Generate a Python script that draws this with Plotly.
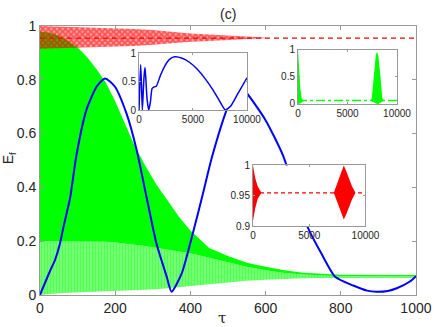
import plotly.graph_objects as go

# ---- main panel data ----
# green: fast oscillation, drawn as its envelopes
green_tau = [0, 25, 50, 75, 100, 125, 150, 175, 200, 225, 250, 280, 310, 340, 370,
             400, 450, 500, 550, 600, 650, 700, 750, 800, 900, 1000]
green_hi = [0.98, 0.975, 0.965, 0.945, 0.92, 0.885, 0.84, 0.79, 0.72, 0.64, 0.56, 0.48,
            0.41, 0.35, 0.29, 0.24, 0.175, 0.145, 0.12, 0.105, 0.092, 0.083, 0.078,
            0.075, 0.074, 0.074]
green_mid = [0.2, 0.2, 0.2, 0.2, 0.2, 0.2, 0.2, 0.198, 0.195, 0.19, 0.187, 0.182, 0.176,
             0.17, 0.162, 0.155, 0.138, 0.12, 0.105, 0.092, 0.082, 0.076, 0.072, 0.07,
             0.07, 0.07]
green_lo = [0.0, 0.004, 0.006, 0.008, 0.009, 0.01, 0.011, 0.012, 0.013, 0.015, 0.017,
            0.019, 0.021, 0.025, 0.03, 0.035, 0.042, 0.048, 0.053, 0.057, 0.06, 0.062,
            0.063, 0.063, 0.063, 0.063]

# red: oscillating band that settles on a constant
red_tau = [0, 50, 100, 150, 200, 250, 300, 350, 400, 450, 500, 550, 600]
red_hi = [1.0, 0.998, 0.995, 0.993, 0.991, 0.989, 0.985, 0.978, 0.972, 0.968, 0.965,
          0.961, 0.957]
red_lo = [0.915, 0.917, 0.919, 0.921, 0.923, 0.926, 0.93, 0.936, 0.941, 0.944, 0.949,
          0.952, 0.954]
red_flat_tau = [0, 1000]
red_flat = [0.955, 0.955]

# blue
blue_tau = [0, 27, 40, 53, 62, 80, 97, 124, 151, 173, 199, 230, 257, 284, 310, 337,
            350, 377, 403, 434, 457, 497, 525, 550, 600, 646, 680, 711, 750, 785, 833,
            870, 895, 925, 949, 984, 1000]
blue_val = [0, 0.09, 0.13, 0.19, 0.25, 0.36, 0.52, 0.69, 0.775, 0.805, 0.775, 0.675,
            0.54, 0.36, 0.19, 0.068, 0.012, 0.08, 0.21, 0.38, 0.51, 0.69, 0.78, 0.75,
            0.65, 0.52, 0.38, 0.255, 0.15, 0.068, 0.035, 0.016, 0.012, 0.015, 0.025,
            0.05, 0.07]

# ---- inset data ----
ins_blue_t = [0, 80, 155, 230, 310, 400, 480, 560, 650, 745, 900, 1056, 1211, 1400,
              1600, 2000, 2400, 2800, 3300, 4000, 4700, 5400, 6100, 6800, 7400, 8000,
              8500, 9100, 10000]
ins_blue_v = [0, 0.45, 0.8, 0.45, 0, 0.35, 0.62, 0.75, 0.5, 0.2, 0, 0.14, 0.38, 0.41,
              0.42, 0.62, 0.78, 0.89, 0.94, 0.915, 0.84, 0.72, 0.56, 0.37, 0.18, 0.0,
              0.07, 0.27, 0.57]

ins_green_t = [0, 100, 240, 370, 500, 700, 7300, 7450, 7650, 7850, 7980, 8110, 8320,
               8520, 8680, 10000]
ins_green_hi = [1.0, 0.64, 0.28, 0.1, 0.075, 0.065, 0.065, 0.1, 0.52, 0.89, 0.96, 0.89,
                0.52, 0.1, 0.065, 0.065]
ins_green_lo = [0.0, 0.0, 0.01, 0.03, 0.05, 0.065, 0.065, 0.05, 0.02, 0.0, 0.0, 0.0,
                0.02, 0.05, 0.065, 0.065]
ins_green_flat_t = [0, 10000]
ins_green_flat = [0.065, 0.065]

ins_red_t = [0, 200, 415, 650, 750, 7180, 7400, 7626, 7850, 8070, 8300, 8516, 8800,
             9110, 10000]
ins_red_hi = [1.0, 0.979, 0.966, 0.957, 0.955, 0.955, 0.966, 0.979, 0.99, 1.0, 0.99,
              0.979, 0.966, 0.955, 0.955]
ins_red_lo = [0.909, 0.93, 0.945, 0.952, 0.955, 0.955, 0.944, 0.93, 0.92, 0.911, 0.92,
              0.93, 0.944, 0.955, 0.955]
ins_red_flat_t = [0, 10000]
ins_red_flat = [0.955, 0.955]

GREEN = "#00ff00"
RED = "#ff0000"
BLUE = "#0000ff"
FONT = "Liberation Sans"

fig = go.Figure()

# main: green envelopes
fig.add_trace(go.Scatter(x=green_tau, y=green_lo, mode="lines", line=dict(width=0),
                         hoverinfo="skip"))
fig.add_trace(go.Scatter(x=green_tau, y=green_mid, mode="lines", line=dict(width=0),
                         fill="tonexty",
                         fillpattern=dict(shape="|", fgcolor=GREEN,
                                          bgcolor="rgba(0,255,0,0.35)",
                                          size=3, solidity=0.75)))
fig.add_trace(go.Scatter(x=green_tau, y=green_hi, mode="lines", line=dict(width=0),
                         fill="tonexty", fillcolor=GREEN))

# main: red band + dashed level
fig.add_trace(go.Scatter(x=red_tau, y=red_lo, mode="lines", line=dict(width=0),
                         hoverinfo="skip"))
fig.add_trace(go.Scatter(x=red_tau, y=red_hi, mode="lines", line=dict(width=0),
                         fill="tonexty",
                         fillpattern=dict(shape="x", fgcolor=RED,
                                          bgcolor="rgba(255,0,0,0.35)",
                                          size=4, solidity=0.7)))
fig.add_trace(go.Scatter(x=red_flat_tau, y=red_flat, mode="lines",
                         line=dict(color=RED, width=1.2, dash="5px,4px")))

# main: blue
fig.add_trace(go.Scatter(x=blue_tau, y=blue_val, mode="lines",
                         line=dict(color=BLUE, width=2, shape="spline", smoothing=0.6)))

# inset 1: blue
fig.add_trace(go.Scatter(x=ins_blue_t, y=ins_blue_v, mode="lines", xaxis="x2", yaxis="y2",
                         line=dict(color=BLUE, width=1.5, shape="spline", smoothing=0.5)))

# inset 2: green
fig.add_trace(go.Scatter(x=ins_green_t, y=ins_green_lo, mode="lines", xaxis="x3",
                         yaxis="y3", line=dict(width=0)))
fig.add_trace(go.Scatter(x=ins_green_t, y=ins_green_hi, mode="lines", xaxis="x3",
                         yaxis="y3", line=dict(width=0), fill="tonexty", fillcolor=GREEN))
fig.add_trace(go.Scatter(x=ins_green_flat_t, y=ins_green_flat, mode="lines", xaxis="x3",
                         yaxis="y3", line=dict(color=GREEN, width=1.5, dash="dashdot")))

# inset 3: red
fig.add_trace(go.Scatter(x=ins_red_t, y=ins_red_lo, mode="lines", xaxis="x4", yaxis="y4",
                         line=dict(width=0)))
fig.add_trace(go.Scatter(x=ins_red_t, y=ins_red_hi, mode="lines", xaxis="x4", yaxis="y4",
                         line=dict(width=0), fill="tonexty", fillcolor=RED))
fig.add_trace(go.Scatter(x=ins_red_flat_t, y=ins_red_flat, mode="lines", xaxis="x4",
                         yaxis="y4", line=dict(color=RED, width=1.2, dash="4px,3px")))


def ax_style(size, ticklen):
    return dict(showline=True, linecolor="#999999", linewidth=1, mirror="ticks",
                ticks="inside", ticklen=ticklen, tickcolor="#999999", showgrid=False,
                zeroline=False, tickfont=dict(family=FONT, size=size, color="#262626"))


fig.update_layout(
    width=436, height=327,
    margin=dict(l=0, r=0, t=0, b=0, autoexpand=False),
    paper_bgcolor="white", plot_bgcolor="white",
    showlegend=False,
    xaxis=dict(domain=[0.0917, 0.954], range=[0, 1000], tickvals=[0, 200, 400, 600, 800, 1000],
               **ax_style(14, 4)),
    yaxis=dict(domain=[0.098, 0.9205], range=[0, 1], tickvals=[0, 0.2, 0.4, 0.6, 0.8, 1],
               ticktext=["0", "0.2", "0.4", "0.6", "0.8", "1"], **ax_style(14, 4)),
    xaxis2=dict(domain=[0.3188, 0.5665], range=[0, 10000], anchor="y2",
                tickvals=[0, 5000, 10000], ticktext=["0", "5000", "10000"], **ax_style(10, 2)),
    yaxis2=dict(domain=[0.6636, 0.8365], range=[0, 1], anchor="x2",
                tickvals=[0, 0.5, 1], ticktext=["0", "0.5", "1"], **ax_style(10, 2)),
    xaxis3=dict(domain=[0.6835, 0.9106], range=[0, 10000], anchor="y3",
                tickvals=[0, 5000, 10000], ticktext=["0", "5000", "10000"], **ax_style(10, 2)),
    yaxis3=dict(domain=[0.682, 0.8486], range=[0, 1], anchor="x3",
                tickvals=[0, 0.5, 1], ticktext=["0", "0.5", "1"], **ax_style(10, 2)),
    xaxis4=dict(domain=[0.5803, 0.8383], range=[0, 10000], anchor="y4",
                tickvals=[0, 5000, 10000], ticktext=["0", "5000", "10000"], **ax_style(10, 2)),
    yaxis4=dict(domain=[0.308, 0.4939], range=[0.9, 1], anchor="x4",
                tickvals=[0.9, 0.95, 1], ticktext=["0.9", "0.95", "1"], **ax_style(10, 2)),
    annotations=[
        dict(text="(c)", x=0.523, y=0.957, xref="paper", yref="paper", showarrow=False,
             xanchor="center", yanchor="middle",
             font=dict(family=FONT, size=14, color="#262626")),
        dict(text="τ", x=0.5085, y=0.026, xref="paper", yref="paper", showarrow=False,
             xanchor="center", yanchor="middle",
             font=dict(family="DejaVu Serif", size=15, color="#262626")),
        dict(text="E<sub>f</sub>", x=0.02, y=0.515, xref="paper", yref="paper",
             showarrow=False, textangle=-90, xanchor="center", yanchor="middle",
             font=dict(family=FONT, size=14, color="#262626")),
    ],
)

# the page's default 8px body margin would shift the figure
fig.write_html("out.html", config={"displayModeBar": False},
               post_script="document.body.style.margin = '0px';")
